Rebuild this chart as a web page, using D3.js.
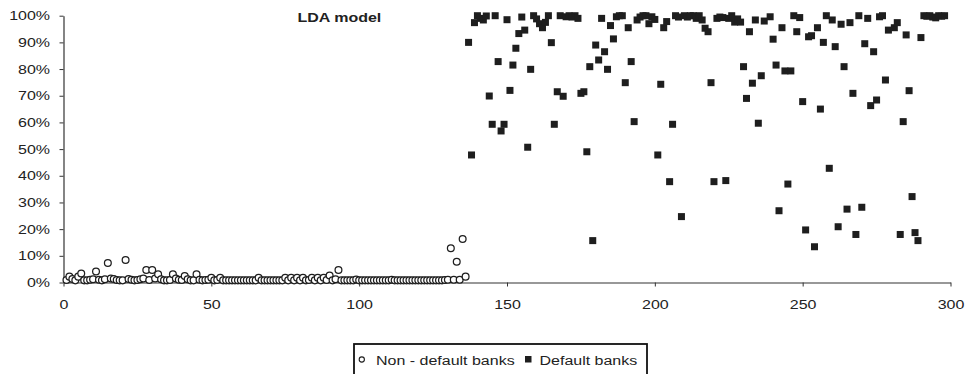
<!DOCTYPE html>
<html>
<head>
<meta charset="utf-8">
<script src="https://cdn.jsdelivr.net/npm/d3@7"></script>
<style>
  html, body { margin: 0; padding: 0; background: #fff; }
  svg { display: block; }
</style>
</head>
<body>
<svg id="chart" width="971" height="374"></svg>
<script>
// Probability of default (%) by bank number, LDA model
// Non-default banks: numbered 1..136 in order
const nonDefaultProb = [
  0.9, 2.2, 1.3, 0.8, 2.2, 3.4, 0.8, 0.8, 1.0, 1.2,
  4.1, 1.0, 0.8, 1.2, 7.3, 1.5, 1.3, 0.9, 0.8, 0.8,
  8.4, 1.3, 1.0, 0.8, 0.9, 1.2, 1.5, 4.7, 0.9, 4.7,
  1.5, 3.1, 1.2, 0.8, 0.8, 0.9, 3.1, 1.5, 1.0, 0.9,
  2.4, 1.2, 0.8, 0.8, 3.1, 1.0, 0.8, 0.9, 1.0, 1.8,
  0.8, 0.9, 1.8, 0.8, 0.8, 0.8, 0.8, 0.8, 0.8, 0.8,
  0.8, 0.8, 0.8, 0.8, 0.8, 1.8, 0.8, 0.8, 0.8, 0.8,
  0.8, 0.8, 0.8, 0.8, 1.8, 0.8, 1.8, 0.8, 1.8, 0.8,
  1.8, 0.8, 0.9, 1.8, 0.8, 1.8, 0.8, 1.8, 0.9, 2.6,
  0.8, 1.2, 4.7, 0.8, 0.8, 0.8, 0.8, 0.8, 1.1, 0.8,
  0.8, 0.8, 0.8, 0.8, 0.8, 0.8, 0.8, 0.8, 0.8, 0.8,
  1.0, 0.8, 0.8, 0.8, 0.8, 0.8, 0.8, 0.8, 0.8, 0.8,
  0.8, 0.8, 0.8, 0.8, 0.8, 0.8, 0.8, 0.8, 0.9, 1.0,
  12.8, 1.0, 7.8, 1.0, 16.3, 2.2
];

// Default banks: bank number and probability (%)
const defaultBank = [
  137, 138, 139, 140, 141, 142, 143, 144, 145, 146,
  147, 148, 149, 150, 151, 152, 153, 154, 155, 156,
  157, 158, 159, 160, 161, 162, 163, 164, 165, 166,
  167, 168, 169, 170, 171, 172, 173, 174, 175, 176,
  177, 178, 179, 180, 181, 182, 183, 184, 185, 186,
  187, 188, 189, 190, 191, 192, 193, 194, 195, 196,
  197, 198, 199, 200, 201, 202, 203, 204, 205, 206,
  207, 208, 209, 210, 211, 212, 213, 214, 215, 216,
  217, 218, 219, 220, 221, 222, 223, 224, 225, 226,
  227, 228, 229, 230, 231, 232, 233, 234, 235, 236,
  237, 239, 240, 241, 242, 243, 244, 245, 246, 247,
  248, 249, 250, 251, 252, 253, 254, 255, 256, 257,
  258, 259, 260, 261, 262, 263, 264, 265, 266, 267,
  268, 269, 270, 271, 272, 273, 274, 275, 276, 277,
  278, 279, 281, 282, 283, 284, 285, 286, 287, 288,
  289, 290, 291, 292, 293, 294, 295, 296, 297, 298
];
const defaultProb = [
  90, 47.8, 97.4, 100, 99, 98.4, 99.9, 69.9, 59.3, 100,
  82.8, 56.8, 59.3, 98.5, 72, 81.5, 87.8, 93.3, 99.5, 94.6,
  50.7, 79.9, 100, 98.8, 97, 95.5, 97.5, 100, 89.9, 59.3,
  71.5, 100, 69.8, 99.6, 100, 99.5, 100, 99, 70.9, 71.5,
  49, 80.9, 15.7, 89, 83.4, 99, 86.5, 79.9, 96.3, 91.3,
  99.6, 100, 100, 74.9, 95.5, 82.8, 60.3, 98.4, 99.5, 100,
  100, 97, 99.6, 98.6, 47.8, 74.3, 95.5, 97.8, 37.8, 59.3,
  100, 99.5, 24.7, 100, 99.5, 100, 100, 99, 100, 98.4,
  95.3, 94, 74.9, 37.8, 99, 99.5, 99.3, 38.2, 99, 100,
  97.6, 98.8, 97.6, 80.9, 69, 94, 74.7, 98.4, 59.7, 77.5,
  98, 99.6, 91.2, 81.5, 26.9, 95.5, 79.3, 36.9, 79.3, 100,
  94, 99.3, 67.8, 19.7, 92.1, 92.5, 13.4, 95.5, 65, 90,
  100, 42.8, 98.4, 88.4, 20.9, 96.8, 80.9, 27.5, 97.4, 70.9,
  18, 100, 28.2, 89.5, 99, 66.3, 86.5, 68.4, 99.6, 100,
  75.9, 94.6, 95.5, 97.4, 18, 60.3, 92.8, 71.9, 32.2, 18.7,
  15.7, 91.8, 100, 99.8, 100, 99.5, 99.2, 100, 99.8, 100
];

const xTicks = [0, 50, 100, 150, 200, 250, 300];
const yTicks = [0, 0.1, 0.2, 0.3, 0.4, 0.5, 0.6, 0.7, 0.8, 0.9, 1];
const chartTitle = "LDA model";
const seriesNames = ["Non - default banks", "Default banks"];

const ink = "#1e1e1e";
const sx = 1.28;          // horizontal stretch of the lettering
const fontSize = 12.5;
const fontFamily = "Liberation Sans, Arial, Helvetica, sans-serif";

const svg = d3.select("#chart");

// Legend frame (open at the bottom edge)
svg.append("rect")
  .attr("x", 354).attr("y", 344)
  .attr("width", 293).attr("height", 45)
  .attr("fill", "none")
  .attr("stroke", "#111")
  .attr("stroke-width", 1.8);

const x = d3.scaleLinear().domain([0, 300]).range([63.5, 950.5]);
const y = d3.scaleLinear().domain([0, 1]).range([282.5, 15.7]);

// Axes
const yAxis = svg.append("g")
  .attr("transform", `translate(${x(0)},0)`)
  .call(d3.axisLeft(y).tickValues(yTicks).tickFormat(d3.format(".0%"))
    .tickSize(4).tickSizeOuter(0).tickPadding(6.5));
const xAxis = svg.append("g")
  .attr("transform", `translate(0,${y(0)})`)
  .call(d3.axisBottom(x).tickValues(xTicks).tickFormat(d3.format("d"))
    .tickSize(4).tickSizeOuter(0).tickPadding(13.5));

[yAxis, xAxis].forEach(g => {
  g.select(".domain").attr("stroke", "#333").attr("stroke-width", 1.2);
  g.selectAll(".tick line").attr("stroke", "#333").attr("stroke-width", 1);
  g.selectAll(".tick text")
    .attr("font-size", fontSize)
    .attr("font-family", fontFamily)
    .attr("fill", "#222")
    .attr("transform", `scale(${sx},1)`);
});

// Non-default banks: open circles
const nonDefault = nonDefaultProb.map((v, i) => ({ bank: i + 1, p: v / 100 }));
svg.append("g").selectAll("circle")
  .data(nonDefault)
  .join("circle")
  .attr("cx", d => x(d.bank))
  .attr("cy", d => y(d.p))
  .attr("r", 3.4)
  .attr("fill", "#fff")
  .attr("stroke", ink)
  .attr("stroke-width", 1.25);

// Default banks: filled squares
const sq = 7;
const defaults = defaultBank.map((b, i) => ({ bank: b, p: defaultProb[i] / 100 }));
svg.append("g").selectAll("rect")
  .data(defaults)
  .join("rect")
  .attr("x", d => x(d.bank) - sq / 2)
  .attr("y", d => y(d.p) - sq / 2)
  .attr("width", sq)
  .attr("height", sq)
  .attr("fill", ink);

// Title
svg.append("text")
  .attr("transform", `translate(297.5,22) scale(${sx},1)`)
  .attr("font-family", fontFamily)
  .attr("font-size", fontSize)
  .attr("font-weight", "bold")
  .attr("fill", "#222")
  .text(chartTitle);

// Legend entries
const lg = svg.append("g")
  .attr("font-family", fontFamily)
  .attr("font-size", fontSize)
  .attr("fill", "#222");
lg.append("circle")
  .attr("cx", 361.8).attr("cy", 359.5).attr("r", 2.6)
  .attr("fill", "#fff").attr("stroke", ink).attr("stroke-width", 1.1);
lg.append("text")
  .attr("transform", `translate(376,364.5) scale(${sx},1)`)
  .text(seriesNames[0]);
lg.append("rect")
  .attr("x", 525).attr("y", 356).attr("width", 6.5).attr("height", 6.5)
  .attr("fill", ink);
lg.append("text")
  .attr("transform", `translate(539.5,364.5) scale(${sx},1)`)
  .text(seriesNames[1]);
</script>
</body>
</html>
